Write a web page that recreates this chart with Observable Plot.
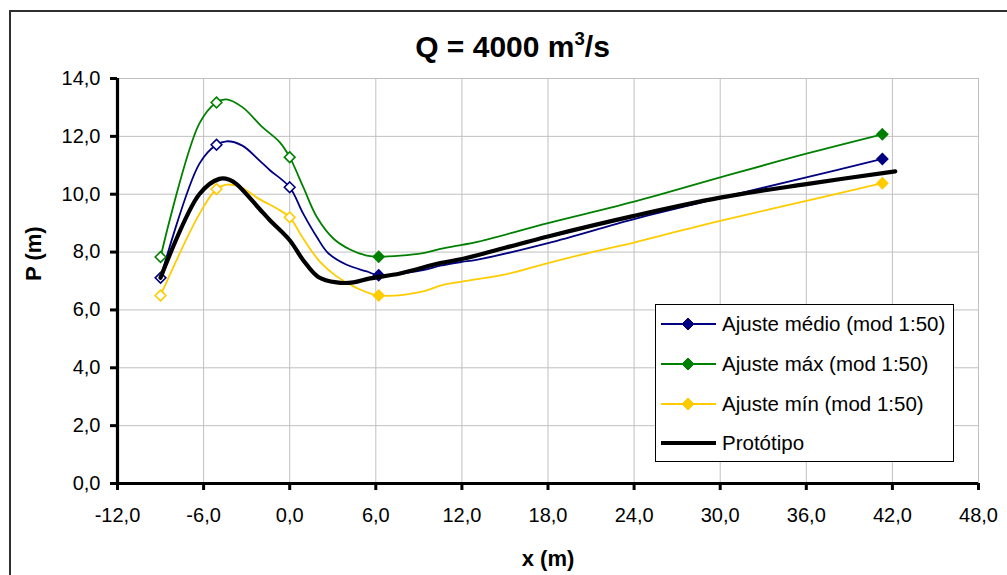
<!DOCTYPE html>
<html>
<head>
<meta charset="utf-8">
<script src="https://cdn.jsdelivr.net/npm/d3@7"></script>
<script src="https://cdn.jsdelivr.net/npm/@observablehq/plot@0.6"></script>
<style>
  html, body { margin: 0; padding: 0; background: #fff; }
  body { width: 1007px; height: 575px; overflow: hidden; position: relative; font-family: Arial, "Liberation Sans", sans-serif; }
  #frame { position: absolute; left: 9px; top: 10px; width: 1100px; height: 700px; border-left: 2px solid #303030; border-top: 2px solid #303030; }
  #title { position: absolute; left: 0; top: 32px; width: 1025px; text-align: center; font-weight: bold; font-size: 30px; line-height: 1; color: #000; }
  #title .sup { position: relative; top: -0.62em; font-size: 0.62em; }
  #chart { position: absolute; left: 0; top: 60px; }
  #legend { position: absolute; left: 655px; top: 304px; width: 299px; height: 158px; border: 1px solid #000; background: #fff; box-sizing: border-box; }
  .row { position: absolute; left: 0; height: 20px; display: flex; align-items: center; font-size: 20.5px; color: #000; white-space: nowrap; }
  .row svg { margin-left: 4px; margin-right: 6px; }
</style>
</head>
<body>
<div id="frame"></div>
<div id="title">Q = 4000 m<span class="sup">3</span>/s</div>
<div id="chart"></div>
<div id="legend"></div>
<script>
// ---- data ----
const seriesNames = ["Ajuste médio (mod 1:50)", "Ajuste máx (mod 1:50)", "Ajuste mín (mod 1:50)", "Protótipo"];
const seriesColors = ["#000080", "#008000", "#FFCC00", "#000000"];

const medioX = [-9.0, -6.3, -5.1, -4.4, -3.3, -2.1, -1.38, 0, 0.94, 1.88, 2.69, 3.97, 5.37, 6.2, 9.3, 10.5, 12.0, 13.0, 18.0, 24.0, 30.0, 36.0, 41.3];
const medioY = [7.11, 11.05, 11.71, 11.83, 11.68, 11.16, 10.83, 10.24, 9.33, 8.53, 7.96, 7.56, 7.33, 7.2, 7.38, 7.53, 7.66, 7.73, 8.31, 9.14, 9.87, 10.58, 11.22];

const maxX = [-9.0, -6.3, -5.1, -4.4, -3.3, -1.9, -0.7, 0, 0.94, 1.88, 3.04, 4.2, 5.37, 6.2, 9.3, 10.5, 12.0, 13.0, 18.0, 24.0, 30.0, 36.0, 41.3];
const maxY = [7.83, 12.44, 13.17, 13.28, 13.01, 12.32, 11.8, 11.28, 10.25, 9.22, 8.47, 8.09, 7.88, 7.84, 7.96, 8.11, 8.25, 8.34, 9.0, 9.74, 10.58, 11.4, 12.07];

const minX = [-9.0, -6.3, -5.1, -4.4, -3.5, -2.1, -0.7, 0, 0.94, 2.1, 3.27, 4.66, 6.2, 9.3, 10.5, 12.0, 15.15, 18.0, 21.0, 24.0, 27.25, 30.0, 36.0, 41.3];
const minY = [6.5, 9.31, 10.18, 10.33, 10.26, 9.83, 9.45, 9.2, 8.47, 7.67, 7.16, 6.76, 6.5, 6.64, 6.84, 6.98, 7.24, 7.62, 7.99, 8.33, 8.74, 9.08, 9.77, 10.38];

const protoX = [-9.0, -6.3, -4.9, -4.2, -3.7, -2.1, -1.38, 0, 0.94, 1.99, 3.27, 4.43, 5.6, 7.69, 10.5, 12.0, 18.0, 24.0, 30.0, 36.0, 42.2];
const protoY = [7.11, 10.0, 10.53, 10.5, 10.35, 9.49, 9.1, 8.41, 7.72, 7.14, 6.95, 6.95, 7.09, 7.26, 7.62, 7.76, 8.54, 9.25, 9.88, 10.35, 10.79];

// measured points (markers): first three hollow, last two filled
const markerX = [-9.0, -5.1, 0, 6.2, 41.3];
const markerHollow = [true, true, true, false, false];
const medioMarkY = [7.11, 11.71, 10.24, 7.2, 11.22];
const maxMarkY = [7.83, 13.17, 11.28, 7.84, 12.07];
const minMarkY = [6.5, 10.18, 9.2, 6.5, 10.38];

const xTicks = [-12, -6, 0, 6, 12, 18, 24, 30, 36, 42, 48];
const yTicks = [0, 2, 4, 6, 8, 10, 12, 14];
const xLabel = "x (m)";
const yLabel = "P (m)";

// ---- build tables ----
const toRows = (xs, ys) => xs.map((x, i) => ({x, y: ys[i]}));
const toMarks = (ys) => markerX.map((x, i) => ({x, y: ys[i], hollow: markerHollow[i]}));
const fmt = d => d.toFixed(1).replace(".", ",");

const lineSets = [toRows(medioX, medioY), toRows(maxX, maxY), toRows(minX, minY)];
const markSets = [toMarks(medioMarkY), toMarks(maxMarkY), toMarks(minMarkY)];

const marks = [
  Plot.gridX(xTicks, {stroke: "#c0c0c0", strokeOpacity: 1, strokeWidth: 1}),
  Plot.gridY(yTicks, {stroke: "#c0c0c0", strokeOpacity: 1, strokeWidth: 1}),
  Plot.axisX(xTicks, {tickFormat: fmt, tickSize: 7, tickPadding: 17, strokeWidth: 3, label: null, fontSize: 20}),
  Plot.axisY(yTicks, {tickFormat: fmt, tickSize: 7, tickPadding: 10, strokeWidth: 3, label: null, fontSize: 20}),
  Plot.ruleY([0], {stroke: "#000", strokeWidth: 3.2}),
  Plot.ruleX([-12], {stroke: "#000", strokeWidth: 3.2}),
];
lineSets.forEach((rows, k) => {
  marks.push(Plot.line(rows, {x: "x", y: "y", stroke: seriesColors[k], strokeWidth: 1.8, curve: "catmull-rom"}));
  marks.push(Plot.dot(markSets[k], {
    x: "x", y: "y", symbol: "diamond2", r: 4.8,
    stroke: seriesColors[k], strokeWidth: 1.6,
    fill: d => d.hollow ? "#ffffff" : seriesColors[k]
  }));
});
marks.push(Plot.line(toRows(protoX, protoY), {x: "x", y: "y", stroke: "#000", strokeWidth: 4.2, curve: "catmull-rom"}));
marks.push(Plot.text([yLabel], {frameAnchor: "left", dx: -84, rotate: -90, fontWeight: "bold", fontSize: 22, text: d => d}));
marks.push(Plot.text([xLabel], {frameAnchor: "bottom", dy: 75.5, lineAnchor: "middle", fontWeight: "bold", fontSize: 22, text: d => d}));

const chart = Plot.plot({
  width: 1007,
  height: 515,
  marginLeft: 117,
  marginRight: 29,
  marginTop: 18,
  marginBottom: 92,
  style: {fontFamily: "Arial, 'Liberation Sans', sans-serif", fontSize: "20px", color: "#000", background: "transparent", overflow: "visible"},
  x: {domain: [-12, 48]},
  y: {domain: [0, 14]},
  marks
});
document.getElementById("chart").appendChild(chart);

// ---- legend ----
const legend = document.getElementById("legend");
const rowCenters = [19, 59, 98.5, 138];
seriesNames.forEach((name, k) => {
  const row = document.createElement("div");
  row.className = "row";
  row.style.top = (rowCenters[k] - 10) + "px";
  const isProto = k === 3;
  row.innerHTML =
    `<svg width="56" height="16" viewBox="0 0 56 16">
       <line x1="1" y1="8" x2="56" y2="8" stroke="${seriesColors[k]}" stroke-width="${isProto ? 4.2 : 1.8}"/>
       ${isProto ? "" : `<path d="M28,2L34,8L28,14L22,8Z" fill="${seriesColors[k]}" stroke="${seriesColors[k]}" stroke-width="1"/>`}
     </svg><span>${name}</span>`;
  legend.appendChild(row);
});
</script>
</body>
</html>
